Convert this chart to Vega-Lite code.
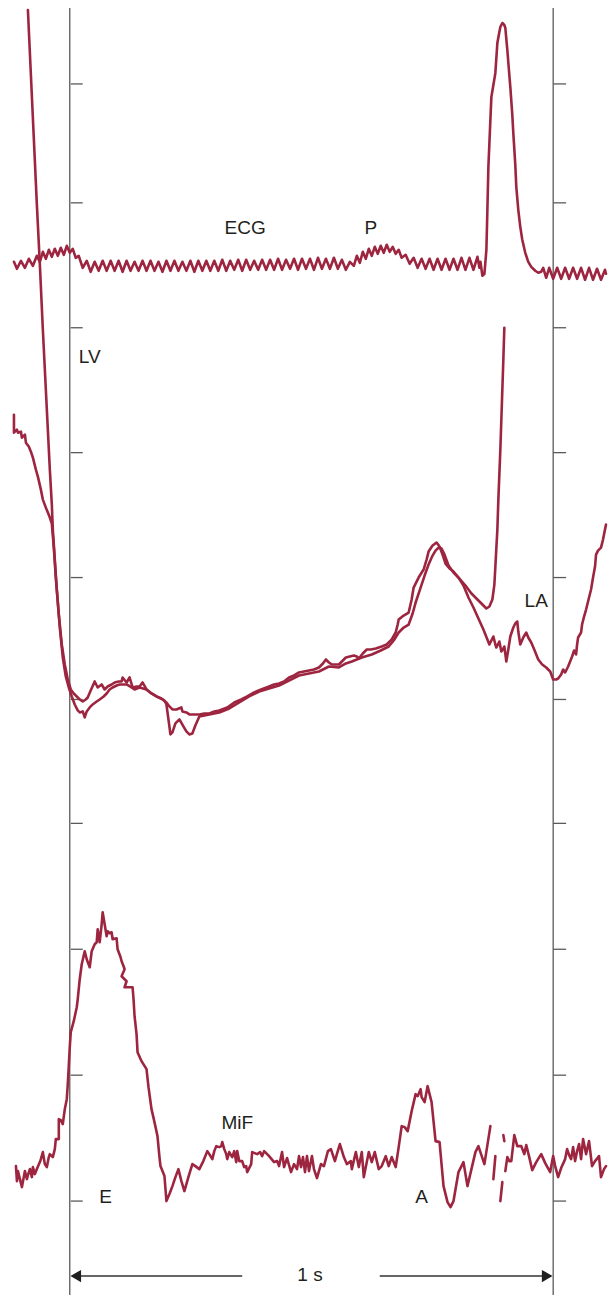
{
  "$schema": "https://vega.github.io/schema/vega-lite/v6.json",
  "width": 608,
  "height": 1296,
  "autosize": {"type": "fit", "contains": "padding"},
  "padding": 0,
  "background": "white",
  "config": {"view": {"stroke": null}},
  "datasets": {
    "vlines": [{"x": 70, "y": 8, "y2": 1296}, {"x": 555, "y": 8, "y2": 1296}],
    "ticks": [
      {"x": 71, "x2": 83, "y": 84}, {"x": 71, "x2": 83, "y": 203}, {"x": 71, "x2": 83, "y": 328}, {"x": 71, "x2": 83, "y": 453}, {"x": 71, "x2": 83, "y": 578}, {"x": 71, "x2": 83, "y": 700}, {"x": 71, "x2": 83, "y": 824}, {"x": 71, "x2": 83, "y": 950}, {"x": 71, "x2": 83, "y": 1076}, {"x": 71, "x2": 83, "y": 1202},
      {"x": 555, "x2": 568, "y": 84}, {"x": 555, "x2": 568, "y": 203}, {"x": 555, "x2": 568, "y": 328}, {"x": 555, "x2": 568, "y": 453}, {"x": 555, "x2": 568, "y": 578}, {"x": 555, "x2": 568, "y": 700}, {"x": 555, "x2": 568, "y": 824}, {"x": 555, "x2": 568, "y": 950}, {"x": 555, "x2": 568, "y": 1076}, {"x": 555, "x2": 568, "y": 1202}
    ],
    "arrows": [{"x": 74, "x2": 243, "y": 1277}, {"x": 381, "x2": 551, "y": 1277}],
    "heads": [{"x": 76, "y": 1277, "end": "left"}, {"x": 549, "y": 1277, "end": "right"}],
    "labels": [
      {"x": 246, "y": 228, "t": "ECG"}, {"x": 372, "y": 228, "t": "P"}, {"x": 90, "y": 357, "t": "LV"}, {"x": 538, "y": 601, "t": "LA"},
      {"x": 238, "y": 1124, "t": "MiF"}, {"x": 106, "y": 1198, "t": "E"}, {"x": 423, "y": 1198, "t": "A"}, {"x": 311, "y": 1276, "t": "1 s"}
    ],
    "curves": [
      {"s":"ECG","x":14,"y":262},{"s":"ECG","x":17,"y":269},{"s":"ECG","x":21,"y":261},{"s":"ECG","x":25,"y":268},{"s":"ECG","x":29,"y":259},{"s":"ECG","x":33,"y":266},{"s":"ECG","x":37,"y":256},{"s":"ECG","x":40,"y":262},{"s":"ECG","x":43,"y":252},{"s":"ECG","x":46,"y":259},{"s":"ECG","x":49,"y":250},{"s":"ECG","x":52,"y":257},{"s":"ECG","x":55,"y":249},{"s":"ECG","x":58,"y":256},{"s":"ECG","x":61,"y":248},{"s":"ECG","x":64,"y":255},{"s":"ECG","x":67,"y":246},{"s":"ECG","x":70,"y":253},{"s":"ECG","x":73,"y":249},{"s":"ECG","x":76,"y":258},{"s":"ECG","x":79,"y":256},{"s":"ECG","x":83,"y":268},{"s":"ECG","x":87,"y":261},{"s":"ECG","x":91,"y":272},{"s":"ECG","x":95,"y":262},{"s":"ECG","x":99,"y":271},{"s":"ECG","x":103,"y":261},{"s":"ECG","x":107,"y":271},{"s":"ECG","x":111,"y":261},{"s":"ECG","x":115,"y":271},{"s":"ECG","x":119,"y":261},{"s":"ECG","x":123,"y":272},{"s":"ECG","x":127,"y":261},{"s":"ECG","x":131,"y":271},{"s":"ECG","x":135,"y":262},{"s":"ECG","x":139,"y":271},{"s":"ECG","x":143,"y":261},{"s":"ECG","x":147,"y":271},{"s":"ECG","x":151,"y":261},{"s":"ECG","x":155,"y":271},{"s":"ECG","x":159,"y":262},{"s":"ECG","x":163,"y":272},{"s":"ECG","x":167,"y":261},{"s":"ECG","x":171,"y":271},{"s":"ECG","x":175,"y":261},{"s":"ECG","x":179,"y":271},{"s":"ECG","x":183,"y":262},{"s":"ECG","x":187,"y":271},{"s":"ECG","x":191,"y":261},{"s":"ECG","x":195,"y":272},{"s":"ECG","x":199,"y":261},{"s":"ECG","x":203,"y":271},{"s":"ECG","x":207,"y":261},{"s":"ECG","x":211,"y":271},{"s":"ECG","x":215,"y":261},{"s":"ECG","x":219,"y":271},{"s":"ECG","x":223,"y":260},{"s":"ECG","x":227,"y":271},{"s":"ECG","x":231,"y":261},{"s":"ECG","x":235,"y":270},{"s":"ECG","x":239,"y":260},{"s":"ECG","x":243,"y":271},{"s":"ECG","x":247,"y":260},{"s":"ECG","x":251,"y":270},{"s":"ECG","x":255,"y":261},{"s":"ECG","x":259,"y":270},{"s":"ECG","x":263,"y":260},{"s":"ECG","x":267,"y":270},{"s":"ECG","x":271,"y":260},{"s":"ECG","x":275,"y":270},{"s":"ECG","x":279,"y":259},{"s":"ECG","x":283,"y":270},{"s":"ECG","x":287,"y":260},{"s":"ECG","x":291,"y":269},{"s":"ECG","x":295,"y":259},{"s":"ECG","x":299,"y":270},{"s":"ECG","x":303,"y":259},{"s":"ECG","x":307,"y":269},{"s":"ECG","x":311,"y":259},{"s":"ECG","x":315,"y":270},{"s":"ECG","x":319,"y":258},{"s":"ECG","x":323,"y":269},{"s":"ECG","x":327,"y":259},{"s":"ECG","x":331,"y":269},{"s":"ECG","x":335,"y":258},{"s":"ECG","x":339,"y":269},{"s":"ECG","x":343,"y":260},{"s":"ECG","x":347,"y":270},{"s":"ECG","x":351,"y":262},{"s":"ECG","x":355,"y":266},{"s":"ECG","x":358,"y":256},{"s":"ECG","x":361,"y":263},{"s":"ECG","x":364,"y":252},{"s":"ECG","x":367,"y":259},{"s":"ECG","x":370,"y":249},{"s":"ECG","x":373,"y":256},{"s":"ECG","x":376,"y":247},{"s":"ECG","x":379,"y":254},{"s":"ECG","x":382,"y":246},{"s":"ECG","x":385,"y":253},{"s":"ECG","x":388,"y":245},{"s":"ECG","x":391,"y":252},{"s":"ECG","x":394,"y":247},{"s":"ECG","x":397,"y":254},{"s":"ECG","x":400,"y":250},{"s":"ECG","x":403,"y":258},{"s":"ECG","x":407,"y":255},{"s":"ECG","x":411,"y":264},{"s":"ECG","x":415,"y":258},{"s":"ECG","x":419,"y":268},{"s":"ECG","x":423,"y":259},{"s":"ECG","x":427,"y":269},{"s":"ECG","x":431,"y":259},{"s":"ECG","x":435,"y":270},{"s":"ECG","x":439,"y":259},{"s":"ECG","x":443,"y":270},{"s":"ECG","x":447,"y":259},{"s":"ECG","x":451,"y":270},{"s":"ECG","x":455,"y":259},{"s":"ECG","x":459,"y":270},{"s":"ECG","x":463,"y":258},{"s":"ECG","x":467,"y":270},{"s":"ECG","x":471,"y":258},{"s":"ECG","x":475,"y":270},{"s":"ECG","x":479,"y":257},{"s":"ECG","x":481,"y":268},{"s":"ECG","x":482,"y":262},{"s":"ECG","x":484,"y":276},{"s":"ECG","x":486,"y":274},{"s":"ECG","x":487,"y":262},{"s":"ECG","x":488,"y":250},{"s":"ECG","x":489,"y":210},{"s":"ECG","x":490,"y":167},{"s":"ECG","x":492,"y":120},{"s":"ECG","x":493,"y":97},{"s":"ECG","x":495,"y":85},{"s":"ECG","x":497,"y":73},{"s":"ECG","x":498,"y":58},{"s":"ECG","x":499,"y":43},{"s":"ECG","x":501,"y":32},{"s":"ECG","x":502,"y":27},{"s":"ECG","x":504,"y":23},{"s":"ECG","x":506,"y":25},{"s":"ECG","x":507,"y":28},{"s":"ECG","x":509,"y":50},{"s":"ECG","x":511,"y":75},{"s":"ECG","x":512,"y":87},{"s":"ECG","x":514,"y":115},{"s":"ECG","x":515,"y":133},{"s":"ECG","x":517,"y":165},{"s":"ECG","x":518,"y":187},{"s":"ECG","x":520,"y":210},{"s":"ECG","x":522,"y":227},{"s":"ECG","x":524,"y":240},{"s":"ECG","x":527,"y":253},{"s":"ECG","x":530,"y":262},{"s":"ECG","x":533,"y":267},{"s":"ECG","x":537,"y":271},{"s":"ECG","x":540,"y":273},{"s":"ECG","x":543,"y":272},{"s":"ECG","x":545,"y":268},{"s":"ECG","x":548,"y":278},{"s":"ECG","x":551,"y":268},{"s":"ECG","x":555,"y":279},{"s":"ECG","x":559,"y":268},{"s":"ECG","x":563,"y":279},{"s":"ECG","x":567,"y":268},{"s":"ECG","x":571,"y":279},{"s":"ECG","x":575,"y":268},{"s":"ECG","x":579,"y":279},{"s":"ECG","x":583,"y":268},{"s":"ECG","x":587,"y":280},{"s":"ECG","x":591,"y":268},{"s":"ECG","x":595,"y":280},{"s":"ECG","x":599,"y":269},{"s":"ECG","x":603,"y":280},{"s":"ECG","x":607,"y":270},{"s":"ECG","x":608,"y":274},

      {"s":"LV","x":28,"y":10},{"s":"LV","x":31,"y":75},{"s":"LV","x":34,"y":140},{"s":"LV","x":37,"y":205},{"s":"LV","x":40,"y":265},{"s":"LV","x":43,"y":330},{"s":"LV","x":46,"y":390},{"s":"LV","x":48,"y":430},{"s":"LV","x":50,"y":470},{"s":"LV","x":52,"y":505},{"s":"LV","x":53,"y":530},{"s":"LV","x":55,"y":560},{"s":"LV","x":57,"y":590},{"s":"LV","x":60,"y":628},{"s":"LV","x":63,"y":658},{"s":"LV","x":66,"y":677},{"s":"LV","x":69,"y":688},{"s":"LV","x":72,"y":697},{"s":"LV","x":75,"y":705},{"s":"LV","x":78,"y":711},{"s":"LV","x":80,"y":713},{"s":"LV","x":83,"y":712},{"s":"LV","x":85,"y":718},{"s":"LV","x":87,"y":712},{"s":"LV","x":90,"y":708},{"s":"LV","x":93,"y":705},{"s":"LV","x":97,"y":702},{"s":"LV","x":100,"y":700},{"s":"LV","x":104,"y":697},{"s":"LV","x":107,"y":694},{"s":"LV","x":110,"y":690},{"s":"LV","x":113,"y":688},{"s":"LV","x":117,"y":686},{"s":"LV","x":120,"y":685},{"s":"LV","x":124,"y":685},{"s":"LV","x":127,"y":685},{"s":"LV","x":132,"y":688},{"s":"LV","x":135,"y":690},{"s":"LV","x":140,"y":688},{"s":"LV","x":147,"y":690},{"s":"LV","x":152,"y":694},{"s":"LV","x":157,"y":697},{"s":"LV","x":162,"y":699},{"s":"LV","x":165,"y":701},{"s":"LV","x":167,"y":705},{"s":"LV","x":169,"y":720},{"s":"LV","x":171,"y":735},{"s":"LV","x":173,"y":733},{"s":"LV","x":176,"y":724},{"s":"LV","x":180,"y":720},{"s":"LV","x":184,"y":727},{"s":"LV","x":187,"y":732},{"s":"LV","x":190,"y":735},{"s":"LV","x":193,"y":734},{"s":"LV","x":196,"y":726},{"s":"LV","x":200,"y":717},{"s":"LV","x":205,"y":716},{"s":"LV","x":210,"y":715},{"s":"LV","x":220,"y":713},{"s":"LV","x":230,"y":709},{"s":"LV","x":240,"y":703},{"s":"LV","x":250,"y":697},{"s":"LV","x":260,"y":692},{"s":"LV","x":270,"y":689},{"s":"LV","x":280,"y":686},{"s":"LV","x":290,"y":681},{"s":"LV","x":300,"y":676},{"s":"LV","x":310,"y":674},{"s":"LV","x":320,"y":672},{"s":"LV","x":330,"y":667},{"s":"LV","x":340,"y":668},{"s":"LV","x":347,"y":664},{"s":"LV","x":353,"y":662},{"s":"LV","x":363,"y":658},{"s":"LV","x":373,"y":655},{"s":"LV","x":382,"y":651},{"s":"LV","x":390,"y":647},{"s":"LV","x":395,"y":641},{"s":"LV","x":400,"y":633},{"s":"LV","x":405,"y":628},{"s":"LV","x":410,"y":625},{"s":"LV","x":414,"y":614},{"s":"LV","x":417,"y":603},{"s":"LV","x":422,"y":588},{"s":"LV","x":426,"y":576},{"s":"LV","x":430,"y":565},{"s":"LV","x":434,"y":556},{"s":"LV","x":437,"y":551},{"s":"LV","x":440,"y":548},{"s":"LV","x":443,"y":549},{"s":"LV","x":446,"y":555},{"s":"LV","x":450,"y":566},{"s":"LV","x":455,"y":573},{"s":"LV","x":460,"y":578},{"s":"LV","x":467,"y":586},{"s":"LV","x":473,"y":594},{"s":"LV","x":479,"y":600},{"s":"LV","x":485,"y":606},{"s":"LV","x":488,"y":609},{"s":"LV","x":491,"y":607},{"s":"LV","x":494,"y":600},{"s":"LV","x":496,"y":585},{"s":"LV","x":497,"y":567},{"s":"LV","x":499,"y":530},{"s":"LV","x":500,"y":500},{"s":"LV","x":502,"y":450},{"s":"LV","x":503,"y":420},{"s":"LV","x":505,"y":360},{"s":"LV","x":506,"y":328},

      {"s":"LA","x":14,"y":415},{"s":"LA","x":14,"y":433},{"s":"LA","x":17,"y":430},{"s":"LA","x":18,"y":433},{"s":"LA","x":21,"y":432},{"s":"LA","x":22,"y":438},{"s":"LA","x":25,"y":435},{"s":"LA","x":26,"y":443},{"s":"LA","x":29,"y":447},{"s":"LA","x":31,"y":452},{"s":"LA","x":33,"y":458},{"s":"LA","x":36,"y":470},{"s":"LA","x":38,"y":477},{"s":"LA","x":41,"y":490},{"s":"LA","x":43,"y":500},{"s":"LA","x":46,"y":508},{"s":"LA","x":48,"y":513},{"s":"LA","x":50,"y":518},{"s":"LA","x":52,"y":524},{"s":"LA","x":54,"y":548},{"s":"LA","x":56,"y":578},{"s":"LA","x":59,"y":615},{"s":"LA","x":62,"y":645},{"s":"LA","x":65,"y":665},{"s":"LA","x":68,"y":680},{"s":"LA","x":71,"y":690},{"s":"LA","x":74,"y":694},{"s":"LA","x":77,"y":697},{"s":"LA","x":80,"y":700},{"s":"LA","x":83,"y":702},{"s":"LA","x":86,"y":700},{"s":"LA","x":88,"y":698},{"s":"LA","x":91,"y":691},{"s":"LA","x":95,"y":682},{"s":"LA","x":98,"y":688},{"s":"LA","x":102,"y":685},{"s":"LA","x":105,"y":690},{"s":"LA","x":108,"y":687},{"s":"LA","x":112,"y":685},{"s":"LA","x":115,"y":683},{"s":"LA","x":119,"y":682},{"s":"LA","x":122,"y":682},{"s":"LA","x":123,"y":678},{"s":"LA","x":127,"y":683},{"s":"LA","x":130,"y":678},{"s":"LA","x":133,"y":688},{"s":"LA","x":137,"y":687},{"s":"LA","x":140,"y":687},{"s":"LA","x":143,"y":683},{"s":"LA","x":147,"y":690},{"s":"LA","x":152,"y":694},{"s":"LA","x":157,"y":697},{"s":"LA","x":163,"y":700},{"s":"LA","x":167,"y":703},{"s":"LA","x":170,"y":707},{"s":"LA","x":173,"y":710},{"s":"LA","x":177,"y":710},{"s":"LA","x":182,"y":708},{"s":"LA","x":183,"y":712},{"s":"LA","x":187,"y":713},{"s":"LA","x":190,"y":715},{"s":"LA","x":195,"y":715},{"s":"LA","x":200,"y":715},{"s":"LA","x":205,"y":714},{"s":"LA","x":210,"y":714},{"s":"LA","x":215,"y":712},{"s":"LA","x":220,"y":711},{"s":"LA","x":228,"y":708},{"s":"LA","x":235,"y":703},{"s":"LA","x":242,"y":700},{"s":"LA","x":248,"y":697},{"s":"LA","x":255,"y":693},{"s":"LA","x":262,"y":690},{"s":"LA","x":270,"y":687},{"s":"LA","x":275,"y":685},{"s":"LA","x":280,"y":684},{"s":"LA","x":285,"y":682},{"s":"LA","x":290,"y":678},{"s":"LA","x":295,"y":676},{"s":"LA","x":300,"y":673},{"s":"LA","x":305,"y":672},{"s":"LA","x":310,"y":671},{"s":"LA","x":315,"y":670},{"s":"LA","x":320,"y":668},{"s":"LA","x":324,"y":664},{"s":"LA","x":327,"y":660},{"s":"LA","x":330,"y":663},{"s":"LA","x":333,"y":665},{"s":"LA","x":340,"y":665},{"s":"LA","x":344,"y":661},{"s":"LA","x":347,"y":658},{"s":"LA","x":351,"y":657},{"s":"LA","x":355,"y":656},{"s":"LA","x":358,"y":657},{"s":"LA","x":360,"y":659},{"s":"LA","x":364,"y":654},{"s":"LA","x":368,"y":650},{"s":"LA","x":372,"y":650},{"s":"LA","x":377,"y":649},{"s":"LA","x":383,"y":647},{"s":"LA","x":388,"y":645},{"s":"LA","x":393,"y":640},{"s":"LA","x":397,"y":633},{"s":"LA","x":399,"y":625},{"s":"LA","x":400,"y":620},{"s":"LA","x":405,"y":616},{"s":"LA","x":410,"y":613},{"s":"LA","x":413,"y":600},{"s":"LA","x":415,"y":588},{"s":"LA","x":420,"y":578},{"s":"LA","x":425,"y":570},{"s":"LA","x":428,"y":560},{"s":"LA","x":430,"y":552},{"s":"LA","x":434,"y":546},{"s":"LA","x":438,"y":543},{"s":"LA","x":441,"y":547},{"s":"LA","x":444,"y":555},{"s":"LA","x":447,"y":564},{"s":"LA","x":451,"y":569},{"s":"LA","x":455,"y":572},{"s":"LA","x":460,"y":578},{"s":"LA","x":465,"y":586},{"s":"LA","x":470,"y":598},{"s":"LA","x":475,"y":608},{"s":"LA","x":480,"y":619},{"s":"LA","x":485,"y":630},{"s":"LA","x":489,"y":640},{"s":"LA","x":491,"y":645},{"s":"LA","x":493,"y":641},{"s":"LA","x":495,"y":637},{"s":"LA","x":497,"y":645},{"s":"LA","x":498,"y":648},{"s":"LA","x":500,"y":644},{"s":"LA","x":501,"y":642},{"s":"LA","x":503,"y":652},{"s":"LA","x":505,"y":649},{"s":"LA","x":506,"y":647},{"s":"LA","x":508,"y":662},{"s":"LA","x":510,"y":650},{"s":"LA","x":512,"y":637},{"s":"LA","x":515,"y":628},{"s":"LA","x":517,"y":624},{"s":"LA","x":519,"y":622},{"s":"LA","x":520,"y":632},{"s":"LA","x":522,"y":645},{"s":"LA","x":525,"y":638},{"s":"LA","x":528,"y":633},{"s":"LA","x":530,"y":638},{"s":"LA","x":533,"y":643},{"s":"LA","x":536,"y":650},{"s":"LA","x":540,"y":660},{"s":"LA","x":544,"y":665},{"s":"LA","x":548,"y":668},{"s":"LA","x":552,"y":672},{"s":"LA","x":555,"y":680},{"s":"LA","x":558,"y":680},{"s":"LA","x":560,"y":679},{"s":"LA","x":563,"y":675},{"s":"LA","x":565,"y":670},{"s":"LA","x":567,"y":673},{"s":"LA","x":570,"y":667},{"s":"LA","x":574,"y":657},{"s":"LA","x":576,"y":651},{"s":"LA","x":578,"y":655},{"s":"LA","x":579,"y":645},{"s":"LA","x":580,"y":638},{"s":"LA","x":583,"y":633},{"s":"LA","x":584,"y":625},{"s":"LA","x":586,"y":617},{"s":"LA","x":588,"y":610},{"s":"LA","x":590,"y":602},{"s":"LA","x":593,"y":590},{"s":"LA","x":595,"y":578},{"s":"LA","x":597,"y":567},{"s":"LA","x":598,"y":555},{"s":"LA","x":600,"y":551},{"s":"LA","x":603,"y":548},{"s":"LA","x":605,"y":540},{"s":"LA","x":608,"y":525},

      {"s":"MiF1","x":16,"y":1167},{"s":"MiF1","x":17,"y":1182},{"s":"MiF1","x":18,"y":1172},{"s":"MiF1","x":20,"y":1180},{"s":"MiF1","x":22,"y":1188},{"s":"MiF1","x":25,"y":1172},{"s":"MiF1","x":27,"y":1180},{"s":"MiF1","x":28,"y":1176},{"s":"MiF1","x":30,"y":1170},{"s":"MiF1","x":32,"y":1178},{"s":"MiF1","x":33,"y":1168},{"s":"MiF1","x":35,"y":1175},{"s":"MiF1","x":37,"y":1170},{"s":"MiF1","x":40,"y":1163},{"s":"MiF1","x":41,"y":1160},{"s":"MiF1","x":43,"y":1153},{"s":"MiF1","x":45,"y":1165},{"s":"MiF1","x":47,"y":1168},{"s":"MiF1","x":49,"y":1158},{"s":"MiF1","x":50,"y":1155},{"s":"MiF1","x":53,"y":1158},{"s":"MiF1","x":55,"y":1150},{"s":"MiF1","x":56,"y":1140},{"s":"MiF1","x":59,"y":1140},{"s":"MiF1","x":59,"y":1120},{"s":"MiF1","x":61,"y":1121},{"s":"MiF1","x":63,"y":1125},{"s":"MiF1","x":65,"y":1110},{"s":"MiF1","x":67,"y":1100},{"s":"MiF1","x":68,"y":1085},{"s":"MiF1","x":69,"y":1067},{"s":"MiF1","x":70,"y":1048},{"s":"MiF1","x":71,"y":1033},{"s":"MiF1","x":74,"y":1022},{"s":"MiF1","x":77,"y":1008},{"s":"MiF1","x":78,"y":1000},{"s":"MiF1","x":80,"y":980},{"s":"MiF1","x":82,"y":965},{"s":"MiF1","x":85,"y":952},{"s":"MiF1","x":87,"y":960},{"s":"MiF1","x":90,"y":968},{"s":"MiF1","x":92,"y":952},{"s":"MiF1","x":95,"y":945},{"s":"MiF1","x":97,"y":943},{"s":"MiF1","x":98,"y":930},{"s":"MiF1","x":100,"y":943},{"s":"MiF1","x":102,"y":925},{"s":"MiF1","x":103,"y":913},{"s":"MiF1","x":105,"y":925},{"s":"MiF1","x":107,"y":937},{"s":"MiF1","x":108,"y":932},{"s":"MiF1","x":110,"y":934},{"s":"MiF1","x":112,"y":933},{"s":"MiF1","x":113,"y":940},{"s":"MiF1","x":117,"y":939},{"s":"MiF1","x":118,"y":950},{"s":"MiF1","x":121,"y":958},{"s":"MiF1","x":122,"y":962},{"s":"MiF1","x":124,"y":967},{"s":"MiF1","x":125,"y":970},{"s":"MiF1","x":122,"y":977},{"s":"MiF1","x":127,"y":982},{"s":"MiF1","x":125,"y":988},{"s":"MiF1","x":130,"y":988},{"s":"MiF1","x":133,"y":988},{"s":"MiF1","x":134,"y":1000},{"s":"MiF1","x":135,"y":1017},{"s":"MiF1","x":137,"y":1035},{"s":"MiF1","x":138,"y":1053},{"s":"MiF1","x":142,"y":1062},{"s":"MiF1","x":147,"y":1070},{"s":"MiF1","x":149,"y":1088},{"s":"MiF1","x":152,"y":1110},{"s":"MiF1","x":155,"y":1123},{"s":"MiF1","x":158,"y":1137},{"s":"MiF1","x":160,"y":1158},{"s":"MiF1","x":161,"y":1167},{"s":"MiF1","x":165,"y":1177},{"s":"MiF1","x":167,"y":1202},{"s":"MiF1","x":170,"y":1195},{"s":"MiF1","x":173,"y":1187},{"s":"MiF1","x":176,"y":1178},{"s":"MiF1","x":179,"y":1170},{"s":"MiF1","x":182,"y":1182},{"s":"MiF1","x":185,"y":1192},{"s":"MiF1","x":189,"y":1178},{"s":"MiF1","x":193,"y":1165},{"s":"MiF1","x":196,"y":1167},{"s":"MiF1","x":200,"y":1170},{"s":"MiF1","x":204,"y":1162},{"s":"MiF1","x":208,"y":1152},{"s":"MiF1","x":210,"y":1155},{"s":"MiF1","x":213,"y":1160},{"s":"MiF1","x":215,"y":1152},{"s":"MiF1","x":217,"y":1147},{"s":"MiF1","x":220,"y":1148},{"s":"MiF1","x":222,"y":1147},{"s":"MiF1","x":223,"y":1143},{"s":"MiF1","x":225,"y":1150},{"s":"MiF1","x":227,"y":1155},{"s":"MiF1","x":228,"y":1160},{"s":"MiF1","x":230,"y":1153},{"s":"MiF1","x":233,"y":1158},{"s":"MiF1","x":235,"y":1152},{"s":"MiF1","x":237,"y":1163},{"s":"MiF1","x":238,"y":1152},{"s":"MiF1","x":240,"y":1162},{"s":"MiF1","x":243,"y":1162},{"s":"MiF1","x":245,"y":1168},{"s":"MiF1","x":247,"y":1167},{"s":"MiF1","x":248,"y":1173},{"s":"MiF1","x":252,"y":1165},{"s":"MiF1","x":253,"y":1153},{"s":"MiF1","x":258,"y":1155},{"s":"MiF1","x":261,"y":1153},{"s":"MiF1","x":263,"y":1157},{"s":"MiF1","x":265,"y":1152},{"s":"MiF1","x":270,"y":1157},{"s":"MiF1","x":275,"y":1163},{"s":"MiF1","x":278,"y":1162},{"s":"MiF1","x":280,"y":1167},{"s":"MiF1","x":283,"y":1153},{"s":"MiF1","x":285,"y":1168},{"s":"MiF1","x":288,"y":1159},{"s":"MiF1","x":292,"y":1173},{"s":"MiF1","x":295,"y":1165},{"s":"MiF1","x":298,"y":1170},{"s":"MiF1","x":300,"y":1157},{"s":"MiF1","x":302,"y":1168},{"s":"MiF1","x":304,"y":1158},{"s":"MiF1","x":306,"y":1173},{"s":"MiF1","x":308,"y":1157},{"s":"MiF1","x":310,"y":1172},{"s":"MiF1","x":313,"y":1157},{"s":"MiF1","x":315,"y":1170},{"s":"MiF1","x":318,"y":1179},{"s":"MiF1","x":322,"y":1165},{"s":"MiF1","x":325,"y":1167},{"s":"MiF1","x":329,"y":1152},{"s":"MiF1","x":332,"y":1150},{"s":"MiF1","x":336,"y":1162},{"s":"MiF1","x":338,"y":1155},{"s":"MiF1","x":341,"y":1145},{"s":"MiF1","x":345,"y":1158},{"s":"MiF1","x":348,"y":1165},{"s":"MiF1","x":352,"y":1162},{"s":"MiF1","x":353,"y":1170},{"s":"MiF1","x":357,"y":1153},{"s":"MiF1","x":360,"y":1168},{"s":"MiF1","x":363,"y":1153},{"s":"MiF1","x":365,"y":1178},{"s":"MiF1","x":370,"y":1153},{"s":"MiF1","x":373,"y":1163},{"s":"MiF1","x":376,"y":1153},{"s":"MiF1","x":380,"y":1170},{"s":"MiF1","x":383,"y":1167},{"s":"MiF1","x":387,"y":1157},{"s":"MiF1","x":390,"y":1167},{"s":"MiF1","x":393,"y":1158},{"s":"MiF1","x":397,"y":1168},{"s":"MiF1","x":400,"y":1148},{"s":"MiF1","x":403,"y":1127},{"s":"MiF1","x":406,"y":1128},{"s":"MiF1","x":409,"y":1132},{"s":"MiF1","x":413,"y":1112},{"s":"MiF1","x":417,"y":1095},{"s":"MiF1","x":419,"y":1097},{"s":"MiF1","x":422,"y":1090},{"s":"MiF1","x":423,"y":1098},{"s":"MiF1","x":426,"y":1103},{"s":"MiF1","x":429,"y":1087},{"s":"MiF1","x":433,"y":1103},{"s":"MiF1","x":437,"y":1142},{"s":"MiF1","x":441,"y":1143},{"s":"MiF1","x":445,"y":1187},{"s":"MiF1","x":449,"y":1203},{"s":"MiF1","x":452,"y":1208},{"s":"MiF1","x":455,"y":1202},{"s":"MiF1","x":460,"y":1173},{"s":"MiF1","x":465,"y":1163},{"s":"MiF1","x":469,"y":1187},{"s":"MiF1","x":473,"y":1170},{"s":"MiF1","x":477,"y":1153},{"s":"MiF1","x":480,"y":1147},{"s":"MiF1","x":486,"y":1165},{"s":"MiF1","x":492,"y":1127},

      {"s":"MiF2","x":497,"y":1157},{"s":"MiF2","x":495,"y":1180},
      {"s":"MiF3","x":505,"y":1136},{"s":"MiF3","x":506,"y":1142},
      {"s":"MiF4","x":504,"y":1183},{"s":"MiF4","x":502,"y":1202},

      {"s":"MiF5","x":507,"y":1172},{"s":"MiF5","x":509,"y":1158},{"s":"MiF5","x":511,"y":1162},{"s":"MiF5","x":513,"y":1162},{"s":"MiF5","x":516,"y":1136},{"s":"MiF5","x":519,"y":1147},{"s":"MiF5","x":521,"y":1147},{"s":"MiF5","x":523,"y":1147},{"s":"MiF5","x":526,"y":1155},{"s":"MiF5","x":528,"y":1146},{"s":"MiF5","x":531,"y":1158},{"s":"MiF5","x":534,"y":1171},{"s":"MiF5","x":538,"y":1163},{"s":"MiF5","x":543,"y":1155},{"s":"MiF5","x":547,"y":1164},{"s":"MiF5","x":552,"y":1173},{"s":"MiF5","x":555,"y":1157},{"s":"MiF5","x":557,"y":1167},{"s":"MiF5","x":560,"y":1178},{"s":"MiF5","x":563,"y":1169},{"s":"MiF5","x":567,"y":1160},{"s":"MiF5","x":569,"y":1150},{"s":"MiF5","x":571,"y":1156},{"s":"MiF5","x":573,"y":1160},{"s":"MiF5","x":575,"y":1148},{"s":"MiF5","x":577,"y":1162},{"s":"MiF5","x":579,"y":1152},{"s":"MiF5","x":581,"y":1145},{"s":"MiF5","x":583,"y":1160},{"s":"MiF5","x":585,"y":1140},{"s":"MiF5","x":588,"y":1155},{"s":"MiF5","x":591,"y":1142},{"s":"MiF5","x":594,"y":1167},{"s":"MiF5","x":597,"y":1162},{"s":"MiF5","x":601,"y":1157},{"s":"MiF5","x":603,"y":1178},{"s":"MiF5","x":606,"y":1170},{"s":"MiF5","x":608,"y":1167}
    ]
  },
  "encoding": {
    "x": {"field": "x", "type": "quantitative", "scale": {"domain": [0, 608], "nice": false, "zero": false}, "axis": null},
    "y": {"field": "y", "type": "quantitative", "scale": {"domain": [1296, 0], "nice": false, "zero": false}, "axis": null}
  },
  "layer": [
    {
      "data": {"name": "vlines"},
      "mark": {"type": "rule", "color": "#5a5a5a", "strokeWidth": 1.3},
      "encoding": {"y2": {"field": "y2"}}
    },
    {
      "data": {"name": "ticks"},
      "mark": {"type": "rule", "color": "#5a5a5a", "strokeWidth": 1.3},
      "encoding": {"x2": {"field": "x2"}}
    },
    {
      "data": {"name": "arrows"},
      "mark": {"type": "rule", "color": "#333333", "strokeWidth": 1.3},
      "encoding": {"x2": {"field": "x2"}}
    },
    {
      "data": {"name": "heads"},
      "mark": {"type": "point", "filled": true, "color": "#1e1e1e", "size": 150, "opacity": 1, "strokeWidth": 0},
      "encoding": {
        "shape": {"field": "end", "type": "nominal", "scale": {"domain": ["left", "right"], "range": ["triangle-left", "triangle-right"]}, "legend": null}
      }
    },
    {
      "data": {"name": "curves"},
      "mark": {"type": "line", "color": "#9d2540", "strokeWidth": 2.6, "strokeJoin": "round", "strokeCap": "round"},
      "encoding": {
        "detail": {"field": "s", "type": "nominal"},
        "order": {"value": null}
      }
    },
    {
      "data": {"name": "labels"},
      "mark": {"type": "text", "font": "Liberation Sans", "fontSize": 19, "color": "#231f20", "align": "center", "baseline": "middle"},
      "encoding": {"text": {"field": "t"}}
    }
  ]
}
